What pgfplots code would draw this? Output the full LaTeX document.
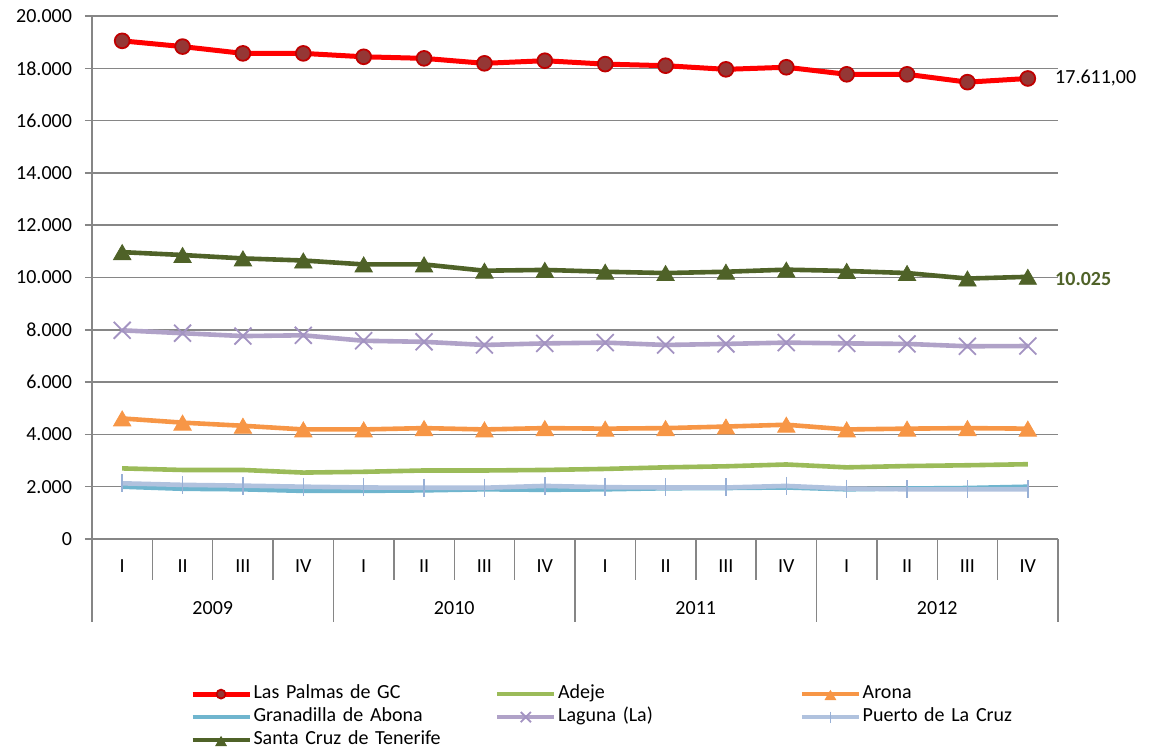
\documentclass[border=0pt]{standalone}
\usepackage{fontspec}
\setmainfont{Carlito}
\usepackage{pgfplots}
\pgfplotsset{compat=1.18}

\definecolor{gridgray}{HTML}{868686}
\definecolor{cpalmas}{HTML}{FF0000}
\definecolor{cpalmasfill}{HTML}{953735}
\definecolor{cpalmasedge}{HTML}{C00000}
\definecolor{cadeje}{HTML}{9BBB59}
\definecolor{carona}{HTML}{F79646}
\definecolor{cgranadilla}{HTML}{6FB5CE}
\definecolor{claguna}{HTML}{B0A2C8}
\definecolor{clagunamark}{HTML}{A393C2}
\definecolor{cpuerto}{HTML}{B0C2DE}
\definecolor{cpuertomark}{HTML}{98B0D6}
\definecolor{csantacruz}{HTML}{4F6228}

\begin{document}
\fontsize{10pt}{12pt}\selectfont
\begin{tikzpicture}
\begin{axis}[
    at={(0,0)}, anchor=south west,
    scale only axis,
    width=483pt, height=261.5pt,
    xmin=-0.5, xmax=15.5,
    ymin=0, ymax=20000,
    axis lines*=left,
    axis line style={draw=gridgray, line width=0.75pt},
    ytick={0,2000,...,20000},
    ymajorgrids,
    grid style={draw=gridgray, line width=0.75pt},
    ytick style={draw=gridgray, line width=0.75pt},
    major tick length=3.5pt,
    tick align=outside,
    scaled y ticks=false,
    /pgf/number format/.cd, 1000 sep={.}, use comma, assume math mode=true,
    /pgfplots/.cd,
    yticklabel style={xshift=-3pt},
    xtick={0,...,15},
    xticklabels={I,II,III,IV,I,II,III,IV,I,II,III,IV,I,II,III,IV},
    xtick style={draw=none},
    xticklabel style={anchor=center, yshift=-10pt},
    clip=false,
    legend columns=3,
    legend style={at={(axis description cs:0.1015,-0.2784)}, anchor=north west,
        draw=none, fill=none, inner sep=0pt, outer sep=0pt, row sep=2pt, column sep=0pt,
        nodes={text width=120pt, align=left, inner xsep=0.75pt, inner ysep=0pt,
            text height=7pt, text depth=2.5pt}},
    legend cell align=left,
    legend image code/.code={
        \draw[mark repeat=2,mark phase=2,#1,/tikz/every mark/.append style={scale=0.6}]
            plot coordinates {(0pt,0pt) (14.25pt,0pt) (28.5pt,0pt)};
    },
]

% Las Palmas de GC
\addplot[color=cpalmas, line width=2.5pt, mark=*, mark size=3.7pt,
    mark options={fill=cpalmasfill, draw=cpalmasedge, line width=0.9pt}] coordinates {
    (0,19050) (1,18830) (2,18570) (3,18570) (4,18440) (5,18380) (6,18190) (7,18290)
    (8,18160) (9,18100) (10,17960) (11,18040) (12,17770) (13,17770) (14,17470) (15,17611)
};
% Adeje
\addplot[color=cadeje, line width=2.3pt, mark=none] coordinates {
    (0,2700) (1,2640) (2,2640) (3,2540) (4,2570) (5,2620) (6,2620) (7,2640)
    (8,2680) (9,2740) (10,2780) (11,2850) (12,2740) (13,2790) (14,2820) (15,2860)
};
% Arona
\addplot[color=carona, line width=2.3pt, mark=triangle*, mark size=5pt,
    mark options={fill=carona, draw=carona, line width=0.4pt, yshift=-1.25pt}] coordinates {
    (0,4610) (1,4450) (2,4330) (3,4190) (4,4190) (5,4240) (6,4190) (7,4240)
    (8,4220) (9,4240) (10,4300) (11,4370) (12,4190) (13,4220) (14,4240) (15,4220)
};
% Granadilla de Abona
\addplot[color=cgranadilla, line width=2.3pt, mark=none] coordinates {
    (0,2000) (1,1920) (2,1900) (3,1840) (4,1840) (5,1860) (6,1900) (7,1880)
    (8,1900) (9,1940) (10,1950) (11,1970) (12,1900) (13,1930) (14,1950) (15,2000)
};
% Laguna (La)
\addplot[color=claguna, line width=2.3pt, mark=x, mark size=6pt,
    mark options={draw=clagunamark, line width=0.9pt}] coordinates {
    (0,7980) (1,7870) (2,7760) (3,7790) (4,7580) (5,7540) (6,7420) (7,7480)
    (8,7510) (9,7420) (10,7460) (11,7510) (12,7480) (13,7460) (14,7370) (15,7380)
};
% Puerto de La Cruz
\addplot[color=cpuerto, line width=2.3pt, mark=|, mark size=4.5pt,
    mark options={draw=cpuertomark, line width=0.8pt}] coordinates {
    (0,2130) (1,2070) (2,2040) (3,2000) (4,1970) (5,1960) (6,1960) (7,2030)
    (8,1980) (9,1970) (10,1970) (11,2030) (12,1930) (13,1900) (14,1900) (15,1900)
};
% Santa Cruz de Tenerife
\addplot[color=csantacruz, line width=2.3pt, mark=triangle*, mark size=5pt,
    mark options={fill=csantacruz, draw=csantacruz, line width=0.4pt, yshift=-1.25pt}] coordinates {
    (0,10970) (1,10860) (2,10730) (3,10650) (4,10500) (5,10500) (6,10260) (7,10290)
    (8,10220) (9,10170) (10,10220) (11,10300) (12,10250) (13,10170) (14,9960) (15,10025)
};

\legend{Las Palmas de GC, Adeje, Arona, Granadilla de Abona, Laguna (La), Puerto de La Cruz, Santa Cruz de Tenerife}

% category separators
\pgfplotsinvokeforeach{0.5,1.5,2.5,4.5,5.5,6.5,8.5,9.5,10.5,12.5,13.5,14.5}{
    \draw[gridgray, line width=0.75pt] (axis cs:#1,0) -- ([yshift=-20.5pt]axis cs:#1,0);
}
\pgfplotsinvokeforeach{-0.5,3.5,7.5,11.5,15.5}{
    \draw[gridgray, line width=0.75pt] (axis cs:#1,0) -- ([yshift=-41.5pt]axis cs:#1,0);
}
\node at (axis cs:1.5,0) [yshift=-34.5pt] {2009};
\node at (axis cs:5.5,0) [yshift=-34.5pt] {2010};
\node at (axis cs:9.5,0) [yshift=-34.5pt] {2011};
\node at (axis cs:13.5,0) [yshift=-34.5pt] {2012};

% data labels
\node[anchor=west, inner sep=0pt] at (axis cs:15,17611) [xshift=13.5pt] {17.611,00};
\node[anchor=west, inner sep=0pt, text=csantacruz, font=\bfseries] at (axis cs:15,10025) [xshift=13.5pt, yshift=-1pt] {10.025};
\end{axis}
\path (-46pt,-105pt) rectangle (529pt,269.5pt);
\end{tikzpicture}
\end{document}
